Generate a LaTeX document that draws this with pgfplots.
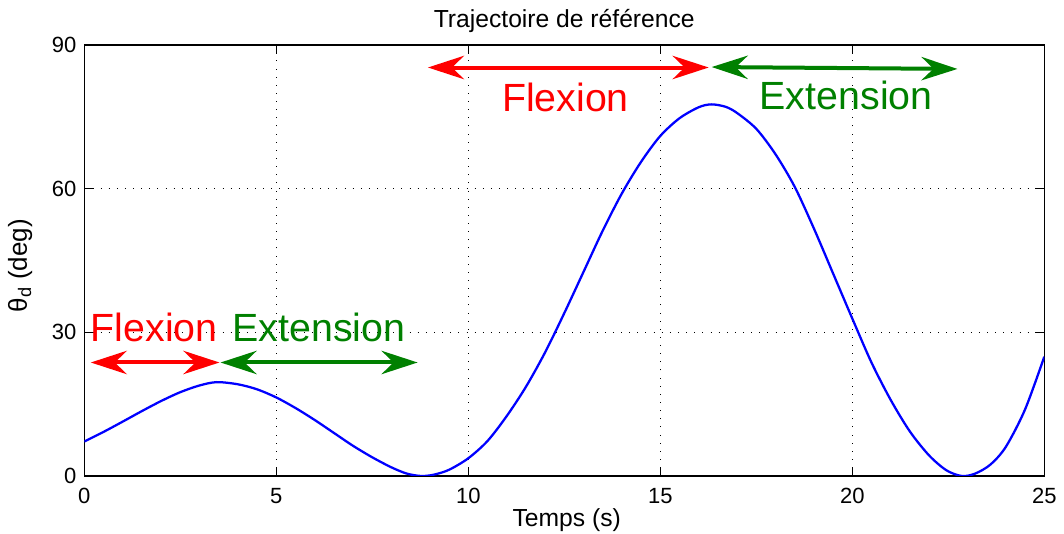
\documentclass[border=0pt]{standalone}
\usepackage{fontspec}
\setmainfont{Liberation Sans}
\usepackage{pgfplots}
\pgfplotsset{compat=1.18}
\usetikzlibrary{arrows.meta}
\definecolor{mred}{RGB}{255,0,0}
\definecolor{mgreen}{RGB}{0,128,0}
\definecolor{mblue}{RGB}{0,0,255}
\begin{document}
\begin{tikzpicture}
\useasboundingbox (-63.2pt,-43.5pt) rectangle (734.8pt,357pt);
\begin{axis}[
  at={(0,0)}, anchor=south west,
  scale only axis, width=720pt, height=323.25pt,
  xmin=0, xmax=25, ymin=0, ymax=90,
  xtick={0,5,10,15,20,25}, ytick={0,30,60,90},
  tick align=inside, major tick length=7pt,
  axis line style={line width=0.8pt},
  every tick/.style={black, line width=0.8pt},
  grid=major,
  major grid style={black, line width=0.6pt, dash pattern=on 0.6pt off 5.5pt},
  tick label style={font=\fontsize{16.5}{16.5}\selectfont},
  /pgf/number format/assume math mode=true,
  xticklabel style={anchor=base, yshift=-20.5pt},
  yticklabel style={anchor=east, inner sep=0pt, xshift=-5.7pt},
  every axis title shift=0pt,
  title={Trajectoire de référence},
  title style={at={(axis description cs:0.5,1.0411)}, anchor=base, font=\fontsize{18.5}{18.5}\selectfont},
  xlabel={Temps (s)},
  xlabel style={at={(axis description cs:0.5025,-0.1176)}, anchor=base, font=\fontsize{18.5}{18.5}\selectfont},
  ylabel={θ\textsubscript{d} (deg)},
  ylabel style={at={(axis description cs:-0.0597,0.4876)}, anchor=base, font=\fontsize{19.5}{19.5}\selectfont},
]
\addplot[mblue, line width=1.7pt, smooth] coordinates {
(0,7.2) (0.5,9.2) (1.0,11.35) (1.5,13.55) (2.0,15.65) (2.5,17.5) (3.0,18.9) (3.45,19.6)
(4.0,19.15) (4.5,18.1) (5.0,16.4) (5.5,14.2) (6.0,11.7) (6.5,9.0) (7.0,6.3) (7.5,3.9)
(8.0,1.8) (8.4,0.5) (8.77,0) (9.1,0.27) (9.5,1.3) (10.0,3.7) (10.5,7.3) (11.0,12.5)
(11.5,18.6) (12.0,25.8) (12.5,34.0) (13.0,42.6) (13.5,51.2) (14.0,59.0) (14.5,65.6)
(15.0,71.0) (15.5,74.7) (16.0,77.0) (16.33,77.6) (16.7,77.1) (17.0,75.8) (17.5,72.5)
(18.0,67.2) (18.5,60.4) (19.0,51.7) (19.5,42.3) (20.0,32.9) (20.5,23.7) (21.0,15.9)
(21.5,9.3) (22.0,4.3) (22.45,1.2) (22.85,0) (23.2,0.5) (23.6,2.4) (24.0,6.1) (24.5,13.9)
(25,24.9)
};
\draw[mred, line width=3pt, {Stealth[length=27pt,width=17.5pt,inset=9pt]}-{Stealth[length=27pt,width=17.5pt,inset=9pt]}]
  (axis cs:0.17,23.7) -- (axis cs:3.52,23.7);
\draw[mgreen, line width=3pt, {Stealth[length=27pt,width=17.5pt,inset=9pt]}-{Stealth[length=27pt,width=17.5pt,inset=9pt]}]
  (axis cs:3.55,23.7) -- (axis cs:8.68,23.7);
\draw[mred, line width=3pt, {Stealth[length=27pt,width=17.5pt,inset=9pt]}-{Stealth[length=27pt,width=17.5pt,inset=9pt]}]
  (axis cs:8.95,85.3) -- (axis cs:16.26,85.3);
\draw[mgreen, line width=3pt, {Stealth[length=27pt,width=17.5pt,inset=9pt]}-{Stealth[length=27pt,width=17.5pt,inset=9pt]}]
  (axis cs:16.34,85.4) -- (axis cs:22.74,85.0);
\node[mred, font=\fontsize{29.5}{29.5}\selectfont, anchor=base, inner sep=0pt] at (axis cs:1.82,28.0) {Flexion};
\node[mgreen, font=\fontsize{29.5}{29.5}\selectfont, anchor=base, inner sep=0pt] at (axis cs:6.11,28.0) {Extension};
\node[mred, font=\fontsize{29.5}{29.5}\selectfont, anchor=base, inner sep=0pt] at (axis cs:12.53,76.1) {Flexion};
\node[mgreen, font=\fontsize{29.5}{29.5}\selectfont, anchor=base, inner sep=0pt] at (axis cs:19.84,76.6) {Extension};
\end{axis}
\end{tikzpicture}
\end{document}
